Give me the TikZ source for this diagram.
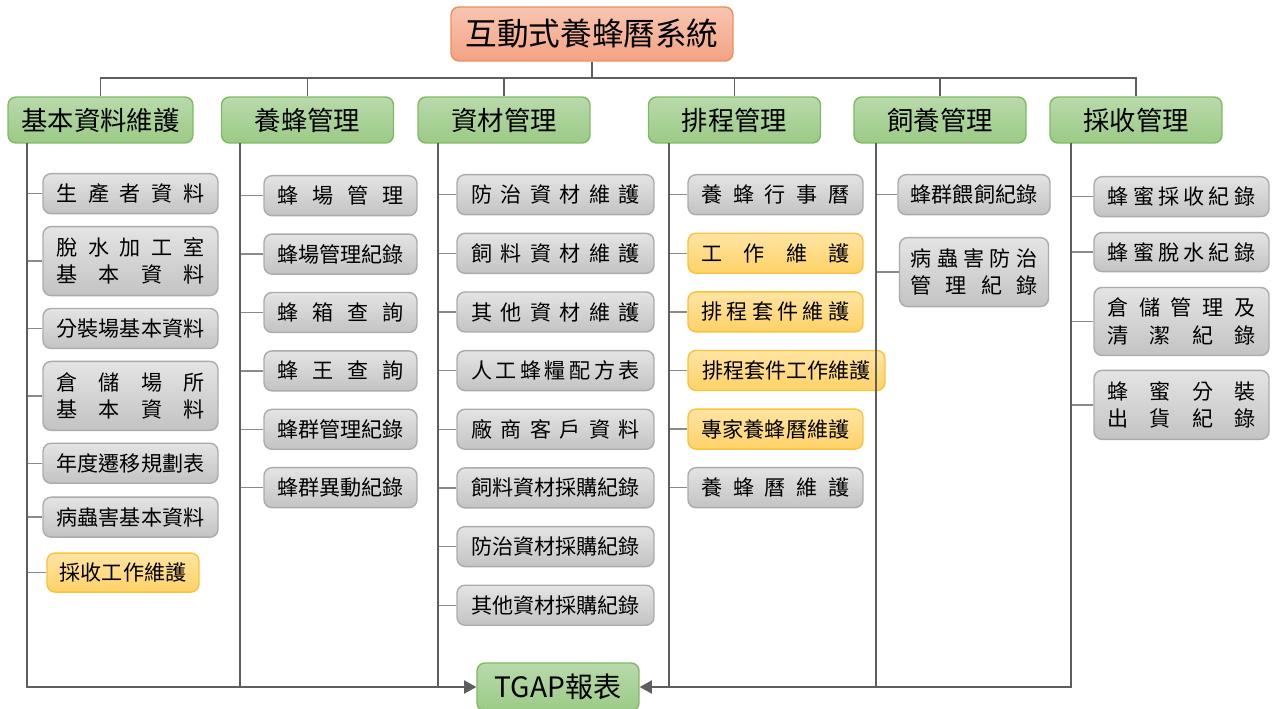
\documentclass[tikz,border=0pt]{standalone}
\usepackage{fontspec}
\setmainfont{Noto Sans CJK TC}
\usetikzlibrary{arrows.meta}
\usetikzlibrary{positioning}

\definecolor{toptop}{HTML}{F8C6B0}
\definecolor{topbot}{HTML}{F3A283}
\definecolor{topline}{HTML}{EE8E5E}
\definecolor{headtop}{HTML}{B9DAAB}
\definecolor{headbot}{HTML}{9BCA86}
\definecolor{headline}{HTML}{7FBA62}
\definecolor{itemtop}{HTML}{E4E4E4}
\definecolor{itembot}{HTML}{C3C3C3}
\definecolor{itemline}{HTML}{ABABAB}
\definecolor{tasktop}{HTML}{FFE4A3}
\definecolor{taskbot}{HTML}{FFD267}
\definecolor{taskline}{HTML}{F9C23C}
\definecolor{trunkgray}{HTML}{5E5E5E}
\definecolor{twiggray}{HTML}{8A8A8A}

\newcommand{\spreadtext}[2]{\makebox[#1][s]{#2}}

\begin{document}
\begin{tikzpicture}[x=0.02cm, y=-0.02cm,
      topbox/.style={draw=topline, top color=toptop, bottom color=topbot, line width=0.8pt, rounded corners=0.16cm, minimum width=5.64cm, minimum height=1.08cm, font=\fontsize{18}{22}\selectfont},
      headbox/.style={draw=headline, top color=headtop, bottom color=headbot, line width=0.8pt, rounded corners=0.16cm, minimum width=3.44cm, minimum height=0.92cm, font=\fontsize{15}{18}\selectfont},
      itembox/.style={draw=itemline, top color=itemtop, bottom color=itembot, line width=0.8pt, rounded corners=0.16cm, minimum height=0.8cm, inner sep=0pt, align=center, font=\fontsize{12}{15.5}\selectfont},
      taskbox/.style={itembox, draw=taskline, top color=tasktop, bottom color=taskbot},
      twoline/.style={minimum height=1.38cm},
      trunk/.style={draw=trunkgray, line width=1.1pt},
      twig/.style={draw=twiggray, line width=0.8pt},
      arrow/.style={trunk, -{Triangle[length=7pt,width=7.5pt]}}
      ]
      \useasboundingbox (0,0) rectangle (1274,709);

      % Top and heads
      \node[topbox] (sys) at (592,34) {互動式養蜂曆系統};
      \node[headbox, minimum width=3.7cm] (h1) at (100.5,120) {基本資料維護};
      \node[headbox] (h2) at (307.5,120) {養蜂管理};
      \node[headbox] (h3) at (504,120) {資材管理};
      \node[headbox] (h4) at (734.5,120) {排程管理};
      \node[headbox] (h5) at (940,120) {飼養管理};
      \node[headbox] (h6) at (1136,120) {採收管理};

      \node[headbox, minimum width=3.24cm, minimum height=0.96cm, font=\fontsize{16}{19}\selectfont] (tgap) at (558,687) {TGAP報表};

      \coordinate (bus) at (0,78);
      \coordinate (c1) at (27,143);
      \coordinate (c2) at (240,143);
      \coordinate (c3) at (438,143);
      \coordinate (c4) at (669,143);
      \coordinate (c5) at (876,143);
      \coordinate (c6) at (1071,143);

      % Column 1
      \node[itembox, minimum width=3.5cm, anchor=north] (a1) at (130.5,173) {\spreadtext{7em}{生 產 者 資 料}};
      \node[itembox, minimum width=3.5cm, twoline, below=0.23cm of a1] (a2) {\spreadtext{7em}{脫 水 加 工 室}\\\spreadtext{7em}{基 本 資 料}};
      \node[itembox, minimum width=3.5cm, below=0.23cm of a2] (a3) {分裝場基本資料};
      \node[itembox, minimum width=3.5cm, twoline, below=0.23cm of a3] (a4) {\spreadtext{7em}{倉 儲 場 所}\\\spreadtext{7em}{基 本 資 料}};
      \node[itembox, minimum width=3.5cm, below=0.23cm of a4] (a5) {年度遷移規劃表};
      \node[itembox, minimum width=3.5cm, below=0.25cm of a5] (a6) {病蟲害基本資料};
      \node[taskbox, minimum width=3.04cm, minimum height=0.78cm, below=0.29cm of a6.south west, anchor=north west, xshift=0.08cm] (a7) {採收工作維護};

      % Column 2
      \node[itembox, minimum width=3.06cm, anchor=north] (b1) at (340.5,175) {\spreadtext{6em}{蜂 場 管 理}};
      \node[itembox, minimum width=3.06cm, below=0.34cm of b1] (b2) {蜂場管理紀錄};
      \node[itembox, minimum width=3.06cm, below=0.34cm of b2] (b3) {\spreadtext{6em}{蜂 箱 查 詢}};
      \node[itembox, minimum width=3.06cm, below=0.34cm of b3] (b4) {\spreadtext{6em}{蜂 王 查 詢}};
      \node[itembox, minimum width=3.06cm, below=0.34cm of b4] (b5) {蜂群管理紀錄};
      \node[itembox, minimum width=3.06cm, below=0.34cm of b5] (b6) {蜂群異動紀錄};

      % Column 3
      \node[itembox, minimum width=3.94cm, anchor=north] (d1) at (555.5,174) {\spreadtext{8em}{防 治 資 材 維 護}};
      \node[itembox, minimum width=3.94cm, below=0.345cm of d1] (d2) {\spreadtext{8em}{飼 料 資 材 維 護}};
      \node[itembox, minimum width=3.94cm, below=0.345cm of d2] (d3) {\spreadtext{8em}{其 他 資 材 維 護}};
      \node[itembox, minimum width=3.94cm, below=0.345cm of d3] (d4) {\spreadtext{8em}{人 工 蜂 糧 配 方 表}};
      \node[itembox, minimum width=3.94cm, below=0.345cm of d4] (d5) {\spreadtext{8em}{廠 商 客 戶 資 料}};
      \node[itembox, minimum width=3.94cm, below=0.345cm of d5] (d6) {飼料資材採購紀錄};
      \node[itembox, minimum width=3.94cm, below=0.345cm of d6] (d7) {防治資材採購紀錄};
      \node[itembox, minimum width=3.94cm, below=0.345cm of d7] (d8) {其他資材採購紀錄};

      % Column 4
      \node[itembox, minimum width=3.5cm, anchor=north] (e1) at (775.5,174) {\spreadtext{7em}{養 蜂 行 事 曆}};
      \node[taskbox, minimum width=3.5cm, below=0.344cm of e1] (e2) {\spreadtext{7em}{工 作 維 護}};
      \node[taskbox, minimum width=3.5cm, below=0.344cm of e2] (e3) {\spreadtext{7em}{排 程 套 件 維 護}};
      \node[taskbox, minimum width=3.94cm, below=0.344cm of e3.south west, anchor=north west] (e4) {排程套件工作維護};
      \node[taskbox, minimum width=3.5cm, below=0.344cm of e4.south west, anchor=north west] (e5) {專家養蜂曆維護};
      \node[itembox, minimum width=3.5cm, below=0.344cm of e5] (e6) {\spreadtext{7em}{養 蜂 曆 維 護}};

      % Column 5
      \node[itembox, minimum width=3.04cm, anchor=north] (f1) at (974,174) {蜂群餵飼紀錄};
      \node[itembox, minimum width=2.98cm, twoline, below=0.43cm of f1] (f2) {\spreadtext{6em}{病 蟲 害 防 治}\\\spreadtext{6em}{管 理 紀 錄}};

      % Column 6
      \node[itembox, minimum width=3.5cm, anchor=north] (g1) at (1181.5,176) {\spreadtext{7em}{蜂 蜜 採 收 紀 錄}};
      \node[itembox, minimum width=3.5cm, minimum height=0.78cm, below=0.29cm of g1] (g2) {\spreadtext{7em}{蜂 蜜 脫 水 紀 錄}};
      \node[itembox, minimum width=3.5cm, minimum height=1.36cm, below=0.29cm of g2] (g3) {\spreadtext{7em}{倉 儲 管 理 及}\\\spreadtext{7em}{清 潔 紀 錄}};
      \node[itembox, minimum width=3.5cm, twoline, below=0.27cm of g3] (g4) {\spreadtext{7em}{蜂 蜜 分 裝}\\\spreadtext{7em}{出 貨 紀 錄}};

      % Bus
      \draw[trunk] (sys.south) -- (sys.south |- bus);
      \draw[trunk] (h1.north) -- (h1.north |- bus) -- (h6.north |- bus) -- (h6.north);
      \foreach \h in {h2,h3,h4,h5}
        \draw[trunk] (\h.north) -- (\h.north |- bus);

      % Branches
      \foreach \n in {a1,a2,a3,a4,a5,a6,a7}
        \draw[twig] (c1 |- \n.west) -- (\n.west);
      \foreach \n in {b1,b2,b3,b4,b5,b6}
        \draw[twig] (c2 |- \n.west) -- (\n.west);
      \foreach \n in {d1,d2,d3,d4,d5,d6,d7,d8}
        \draw[twig] (c3 |- \n.west) -- (\n.west);
      \foreach \n in {e1,e2,e3,e4,e5,e6}
        \draw[twig] (c4 |- \n.west) -- (\n.west);
      \foreach \n in {f1,f2}
        \draw[twig] (c5 |- \n.west) -- (\n.west);
      \foreach \n in {g1,g2,g3,g4}
        \draw[twig] (c6 |- \n.west) -- (\n.west);

      % Columns to report
      \draw[arrow] (c1) |- (tgap.west);
      \draw[trunk] (c2) -- (c2 |- tgap.west);
      \draw[trunk] (c3) -- (c3 |- tgap.west);
      \draw[arrow] (c6) |- (tgap.east);
      \draw[trunk] (c4) -- (c4 |- tgap.east);
      \draw[trunk] (c5) -- (c5 |- tgap.east);

\end{tikzpicture}
\end{document}
